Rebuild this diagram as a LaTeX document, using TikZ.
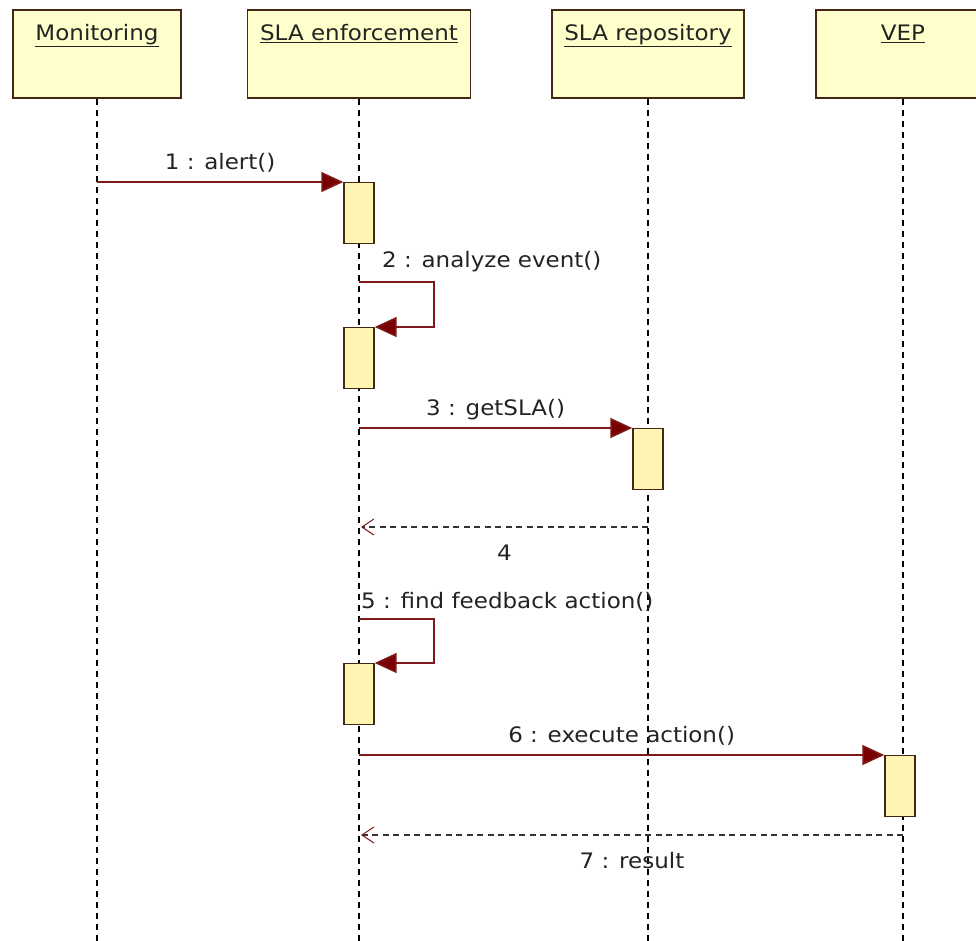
\documentclass[tikz,border=0pt]{standalone}
\usepackage{fontspec}
\setmainfont{DejaVu Sans}[FakeStretch=1.08]
\usepackage{xcolor}
\usetikzlibrary{arrows.meta,positioning}

\definecolor{headfill}{RGB}{255,255,204}
\definecolor{barfill}{RGB}{255,245,178}
\definecolor{boxline}{RGB}{70,38,20}
\definecolor{msgline}{RGB}{125,25,25}
\definecolor{msghead}{RGB}{120,0,0}
\definecolor{retline}{RGB}{55,50,50}
\definecolor{txt}{RGB}{35,35,35}

\begin{document}
\begin{tikzpicture}[
x=1pt, y=-1pt,
font=\fontsize{21.3pt}{25pt}\selectfont,
head/.style={draw=boxline, line width=1.6pt, fill=headfill, text=txt, anchor=north, inner sep=0pt, text height=31pt, text depth=57pt},
bar/.style={draw=boxline, line width=1.4pt, fill=barfill, anchor=north, inner sep=0pt, minimum width=30pt, minimum height=61pt},
lifeline/.style={line width=1.6pt, dash pattern=on 6pt off 5pt},
msg/.style={msgline, line width=1.6pt, -{Triangle[length=22pt, width=20pt, fill=msghead]}},
ret/.style={retline, line width=1.4pt, dash pattern=on 6pt off 4.5pt, -{Straight Barb[length=12pt, width=16pt, line width=1pt, msgline]}},
lab/.style={text=txt, inner sep=0pt}
]
\clip (0,0) rectangle (976,940);

\node[head, minimum width=168pt] (mon) at (97,9) {\underline{Monitoring}};
\node[head, minimum width=223pt] (enf) at (359,9) {\underline{SLA enforcement}};
\node[head, minimum width=192pt] (repo) at (648,9) {\underline{SLA repository}};
\node[head, minimum width=174pt] (vep) at (903,9) {\underline{VEP}};

\foreach \n in {mon,enf,repo,vep}
  \draw[lifeline] (\n.south) -- (\n.south |- 0,945);

\node[bar] (act1) at (359,182) {};
\node[bar] (act2) at (359,327) {};
\node[bar] (act3) at (648,428) {};
\node[bar] (act5) at (359,663) {};
\node[bar] (act6) at (900,755) {};

\coordinate (self2) at (enf |- 0,282);
\coordinate (ret4) at (repo |- 0,527);
\coordinate (self5) at (enf |- 0,619);
\coordinate (ret7) at (vep |- 0,835);

\draw[msg] (mon |- act1.north west) -- node[lab, anchor=base, yshift=13pt] {1 : alert()} (act1.north west);
\draw[msg] (self2) -- ++(75,0) |- (act2.north east);
\node[lab, anchor=base west] (lab2) at (382,267) {2 : analyze event()};
\draw[msg] (enf |- act3.north west) -- node[lab, anchor=base, yshift=13pt] {3 : getSLA()} (act3.north west);
\draw[ret] (ret4) -- node[lab, anchor=base, yshift=-33pt] {4} ([xshift=2pt]enf |- ret4);
\draw[msg] (self5) -- ++(75,0) |- (act5.north east);
\node[lab, anchor=base west] (lab5) at (361,608) {5 : find feedback action()};
\draw[msg] (enf |- act6.north west) -- node[lab, anchor=base, yshift=13pt] {6 : execute action()} (act6.north west);
\draw[ret] (ret7) -- node[lab, anchor=base, yshift=-33pt] {7 : result} ([xshift=2pt]enf |- ret7);

\end{tikzpicture}
\end{document}
